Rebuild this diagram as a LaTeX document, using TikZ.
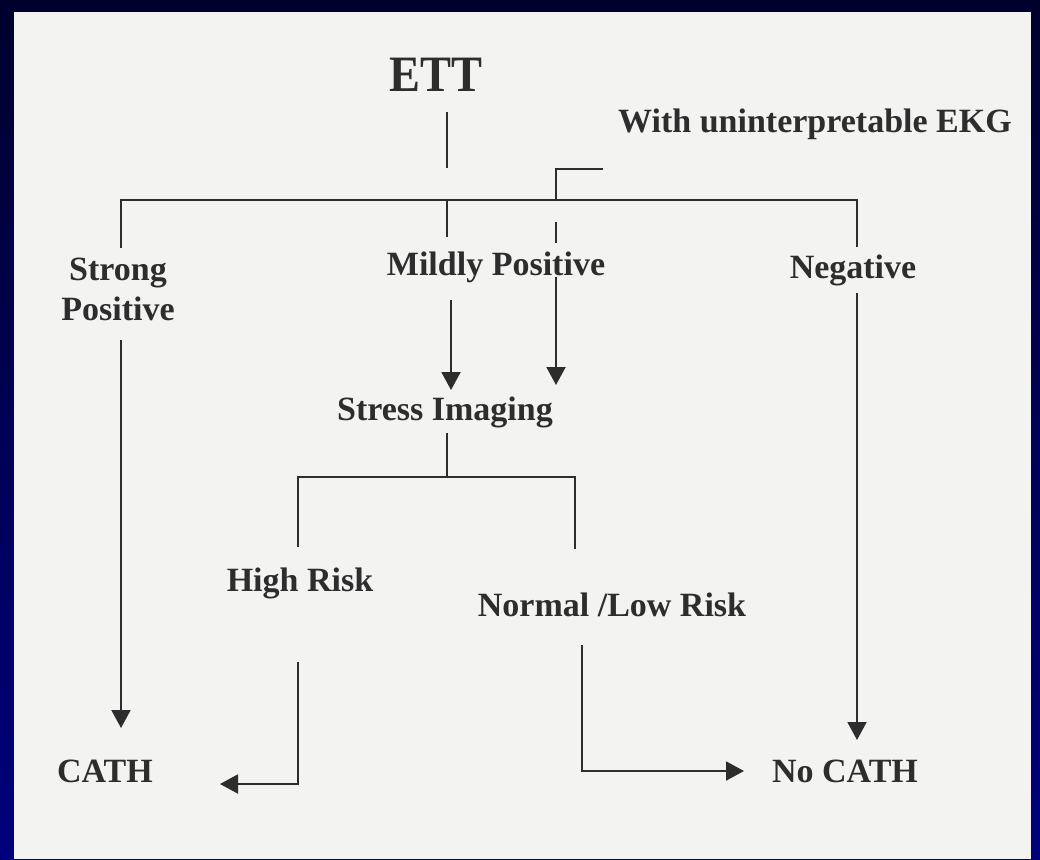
\documentclass[tikz,border=0pt]{standalone}
\usepackage{fontspec}
\setmainfont{Liberation Serif}
\usetikzlibrary{arrows.meta}
\definecolor{navytop}{RGB}{0,0,45}
\definecolor{navybot}{RGB}{0,0,125}
\definecolor{paper}{RGB}{243,243,242}
\definecolor{ink}{RGB}{45,45,45}
\tikzset{
  lbl/.style={anchor=base, text=ink, inner sep=0pt, font=\fontsize{34}{40}\selectfont\bfseries},
  wire/.style={draw=ink, line width=2pt},
  arr/.style={wire, -{Triangle[length=18pt,width=19pt]}}
}
\begin{document}
\begin{tikzpicture}[x=1pt,y=-1pt]
\useasboundingbox (0,0) rectangle (1040,859);
\shade[top color=navytop, bottom color=navybot] (0,0) rectangle (1040,859);
\fill[paper] (14,12) rectangle (1031,859);

% texts
\node[lbl, font=\fontsize{51}{56}\selectfont\bfseries, xscale=0.91] (ett) at (436,91) {ETT};
\node[lbl] (ekg) at (815,132) {With uninterpretable EKG};
\node[lbl] (strong) at (118,280) {Strong};
\node[lbl] (spos) at (118,320) {Positive};
\node[lbl] (mild) at (496,275) {Mildly Positive};
\node[lbl] (neg) at (853,278) {Negative};
\node[lbl] (stress) at (445,420) {Stress Imaging};
\node[lbl] (high) at (300,591) {High Risk};
\node[lbl] (normal) at (612,616) {Normal /Low Risk};
\node[lbl] (cath) at (105,782) {CATH};
\node[lbl] (nocath) at (845,782) {No CATH};

% coordinates
\coordinate (e1) at (447,112);
\coordinate (e2) at (447,168);
\coordinate (e3) at (447,200);
\coordinate (e4) at (447,237);
\coordinate (hl) at (121,200);
\coordinate (hr) at (857,200);
\coordinate (l1) at (121,248);
\coordinate (l2) at (121,340);
\coordinate (l3) at (121,728);
\coordinate (r1) at (857,247);
\coordinate (r2) at (857,293);
\coordinate (r3) at (857,740);
\coordinate (k1) at (603,169);
\coordinate (k2) at (556,169);
\coordinate (k3) at (556,200);
\coordinate (k4) at (556,222);
\coordinate (k5) at (556,243);
\coordinate (k6) at (556,277);
\coordinate (k7) at (556,385);
\coordinate (m1) at (451,300);
\coordinate (m2) at (451,390);
\coordinate (s1) at (447,433);
\coordinate (s2) at (447,477);
\coordinate (sl) at (298,477);
\coordinate (sr) at (575,477);
\coordinate (sl2) at (298,547);
\coordinate (sr2) at (575,549);
\coordinate (h1) at (298,662);
\coordinate (h2) at (298,784);
\coordinate (h3) at (220,784);
\coordinate (n1) at (582,645);
\coordinate (n2) at (582,771);
\coordinate (n3) at (744,771);

% connectors
\draw[wire] (e1) -- (e2);
\draw[wire] (e3) -- (e4);
\draw[wire] (l1) -- (hl) -- (hr) -- (r1);
\draw[wire] (k1) -- (k2) -- (k3);
\draw[wire] (k4) -- (k5);
\draw[arr] (k6) -- (k7);
\draw[arr] (l2) -- (l3);
\draw[arr] (r2) -- (r3);
\draw[arr] (m1) -- (m2);
\draw[wire] (s1) -- (s2);
\draw[wire] (sl2) -- (sl) -- (sr) -- (sr2);
\draw[arr] (h1) -- (h2) -- (h3);
\draw[arr] (n1) -- (n2) -- (n3);
\end{tikzpicture}
\end{document}
